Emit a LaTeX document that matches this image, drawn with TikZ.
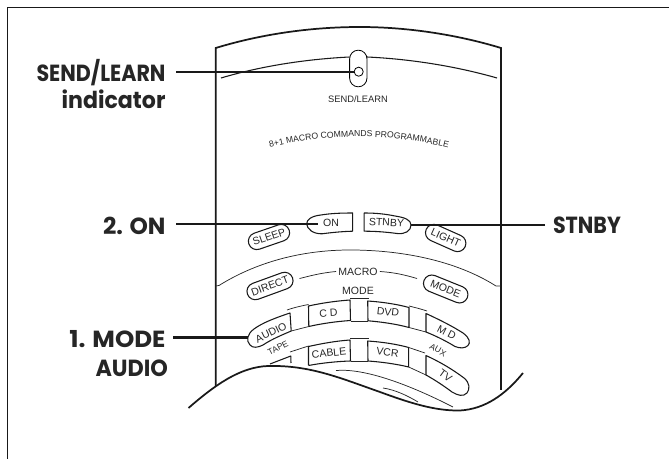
\documentclass[tikz,border=0pt]{standalone}
\usepackage{fontspec}
\setmainfont{Liberation Sans}
\newfontfamily\calloutfont{Poppins}
\usetikzlibrary{shapes,positioning,calc,decorations.text}

\begin{document}
\begin{tikzpicture}[
    x=0.75pt, y=-0.75pt,
    frameline/.style={line width=1.1pt, black!90},
    bodyline/.style={line width=1.3pt, black!90},
    thinline/.style={line width=0.55pt, black!85},
    keyline/.style={line width=0.8pt, black!90, line join=round},
    lead/.style={line width=1.7pt, black!90},
    callout/.style={font=\calloutfont\bfseries\fontsize{17.5}{20}\selectfont, inner sep=0pt, outer sep=0pt,
                    text=black!85, xscale=0.885},
    keytext/.style={font=\fontsize{7.9}{9}\selectfont, inner sep=0pt, black!85},
    smalltext/.style={font=\fontsize{6.4}{7.5}\selectfont, inner sep=0pt, black!85},
    panelkey/.style={rounded rectangle, draw=black!90, line width=0.8pt, inner sep=0pt,
                     minimum height=12.6pt, font=\fontsize{7.9}{9}\selectfont, text=black!85},
  ]
    \useasboundingbox (0,0) rectangle (669,459);
    \draw[frameline] (7.5,459) -- (7.5,7.5) -- (669,7.5);

    \draw[bodyline] (215.7,386) -- (215.7,48) .. controls (265,33) and (315,27) .. (360,27)
                    .. controls (405,27) and (455,34) .. (501,48) -- (501,390);
    \draw[keyline] (221,78) .. controls (265,65) and (310,59) .. (349.5,57);
    \draw[keyline] (367,57) .. controls (410,59) and (455,66) .. (497,78);

    \node[draw, rounded rectangle, rotate=90, line width=0.6pt, minimum width=27.5pt, minimum height=13pt,
          inner sep=0pt] (ledslot) at (358.3,68.5) {};
    \node[draw, circle, line width=0.6pt, minimum size=6.8pt, inner sep=0pt] (led) at (358.7,71.7) {};
    \node[keytext, font=\fontsize{7}{8}\selectfont] (ledtext) at (358,98.8) {SEND/LEARN};
    \path[decorate, decoration={text along path, text align=center,
          text={|\fontsize{6.5}{8}\selectfont\color{black!85}|8+1 MACRO COMMANDS PROGRAMMABLE}}]
        (262,150) .. controls (320,132.5) and (395,132.5) .. (456,150);

    \node[panelkey, rotate=19, minimum width=32pt] (sleep) at (269,237) {SLEEP};
    \node[panelkey, rotate=-24, minimum width=32pt] (light) at (445.7,238) {LIGHT};
    \node[panelkey, rotate=20, minimum width=36pt] (direct) at (270,286) {DIRECT};
    \node[panelkey, rotate=-22, minimum width=35pt] (modekey) at (445.7,289) {MODE};

    % power key
    \draw[keyline] (352.7,213) .. controls (340,213) and (330,213.5) .. (321,215)
                   .. controls (311,216) and (306.5,220) .. (306.7,224)
                   .. controls (307,229) and (313,234) .. (322,233.8)
                   .. controls (332,232.5) and (342,231.5) .. (352.7,231.2) -- cycle;
    \draw[keyline] (364.2,213) .. controls (376,213) and (385,214) .. (395,216)
                   .. controls (405,217.5) and (411,220) .. (411,225)
                   .. controls (411,231) and (405,234.5) .. (397,233.5)
                   .. controls (386,232) and (375,231.2) .. (364.2,231.2) -- cycle;
    \node[keytext] (ontext) at (331,223) {ON};
    \node[keytext, rotate=-3] (stnbytext) at (386.5,222.5) {STNBY};

    % macro band
    \draw[thinline] (215.7,286) -- (219,285.5) .. controls (255,263) and (300,250) .. (350,250)
                    .. controls (400,250) and (455,260) .. (496,286) -- (501,286);
    \node[keytext] (macrotext) at (358,271.5) {MACRO};
    \node[keytext] (modetext) at (358,291) {MODE};
    \draw[thinline] (macrotext.west) ++(-2,0) .. controls (320,273) and (310,276) .. (299.5,278.5);
    \draw[thinline] (macrotext.east) ++(2,0) .. controls (395,272.5) and (405,275) .. (417,278.5);

    % first row
    \draw[keyline] (290,313) .. controls (275,318) and (262,323) .. (254,329)
                   .. controls (247,334) and (246,341) .. (250,345)
                   .. controls (253,348.5) and (258,347.5) .. (263,345)
                   .. controls (272,339) and (282,335) .. (291.2,331) -- cycle;
    \draw[keyline] (308.5,306) .. controls (322,303) and (336,301) .. (350,300) -- (350.5,320.5)
                   .. controls (336,321.5) and (322,323.5) .. (308.8,326.5) -- cycle;
    \draw[keyline] (367.7,301) .. controls (382,302) and (396,304) .. (409,307.5) -- (409,327.5)
                   .. controls (396,324) and (382,322) .. (368,320.8) -- cycle;
    \draw[keyline] (426,313.5) .. controls (440,320) and (452,326) .. (463,333)
                   .. controls (470,338) and (470.5,343) .. (468,345.5)
                   .. controls (465,348.5) and (460,348.5) .. (455,346.5)
                   .. controls (446,341) and (436,336) .. (426,332) -- cycle;
    \draw[thinline] (287,310) .. controls (294,307.5) and (301,306) .. (308.5,304.5);
    \draw[thinline] (350,298.5) -- (369,298.5);
    \draw[thinline] (350.5,321.5) -- (368,321.5);
    \draw[thinline] (409,306) .. controls (415,307.5) and (421,309) .. (427,311);
    \draw[thinline] (291.2,331) -- (308.8,326.5);
    \draw[thinline] (409,327.5) -- (426,332);
    \node[keytext, rotate=26] (audiotext) at (271,332.5) {AUDIO};
    \node[keytext, rotate=4] (cdtext) at (328.5,313) {C D};
    \node[keytext, rotate=-6] (dvdtext) at (388,312) {DVD};
    \node[keytext, rotate=-27] (mdtext) at (446.7,332.7) {M D};
    \node[smalltext, rotate=27] (tapetext) at (278,348) {TAPE};
    \node[smalltext, rotate=-30] (auxtext) at (438,350) {AUX};

    % second row
    \draw[thinline] (290,352) -- (308.5,346);
    \draw[keyline] (270,364) -- (290.8,356) -- (291,363);
    \draw[keyline] (308.5,365.5) -- (308.5,346.5) .. controls (322,343.5) and (336,341) .. (350,340) -- (350.5,361)
                   .. controls (336,361.5) and (322,363) .. (308.5,365.5);
    \draw[keyline] (367.7,341) .. controls (382,342) and (396,344) .. (408.7,347.5) -- (408.7,367)
                   .. controls (396,364) and (382,362) .. (368,361) -- cycle;
    \draw[keyline] (426,355.5) .. controls (440,362) and (452,369) .. (464,378)
                   .. controls (470,383) and (470,389) .. (467,393)
                   .. controls (463,397) and (458,395.5) .. (452,392)
                   .. controls (444,386) and (435,380) .. (426,375) -- cycle;
    \draw[thinline] (350,338) -- (369,338);
    \draw[thinline] (350.5,361) -- (368,361);
    \draw[thinline] (408.7,347.5) -- (425,353);
    \draw[thinline] (408.7,367) -- (426,375);
    \node[keytext, rotate=6] (cabletext) at (329,353) {CABLE};
    \node[keytext, rotate=-7] (vcrtext) at (387.5,352.5) {VCR};
    \node[keytext, rotate=-36] (tvtext) at (445.5,375.5) {TV};

    % torn edge
    \draw[bodyline] (188.5,408) .. controls (215,385) and (240,367) .. (268,366)
                    .. controls (310,365) and (340,378) .. (380,392)
                    .. controls (410,403) and (435,411) .. (460,410.5)
                    .. controls (485,409) and (505,395) .. (523,373);
    \draw[thinline] (336,370.5) .. controls (365,368) and (410,385) .. (453,407);
    \draw[thinline] (383,388) .. controls (396,390) and (408,396) .. (418,402);

    \node[callout, anchor=east] (sendlabel) at (165.5,73) {SEND/LEARN};
    \node[callout, anchor=east, xscale=1.07] (sendsub) at (165.5,99) {indicator};
    \node[callout, anchor=east, xscale=1.13] (onlabel) at (165.5,225.5) {2. ON};
    \node[callout, anchor=east, xscale=1.19] (modelabel) at (165.5,339) {1. MODE};
    \node[callout, anchor=east, xscale=1.08] (audiolabel) at (168,368.5) {AUDIO};
    \node[callout, anchor=west] (stnbylabel) at (553,225.5) {STNBY};

    \coordinate (stnbyend) at (410.5,224.7);
    \coordinate (audioend) at (248,337.5);
    \draw[lead] ($(sendlabel.east |- led.west)+(10.5,0)$) -- (led.west);
    \draw[lead] ($(onlabel.east |- ontext.west)+(10.5,1.3)$) -- ($(ontext.west)+(-5,1.3)$);
    \draw[lead] ($(stnbylabel.west |- stnbyend)+(-8,0)$) -- (stnbyend);
    \draw[lead] ($(modelabel.east |- audioend)+(7.5,0)$) -- (audioend);
\end{tikzpicture}
\end{document}
